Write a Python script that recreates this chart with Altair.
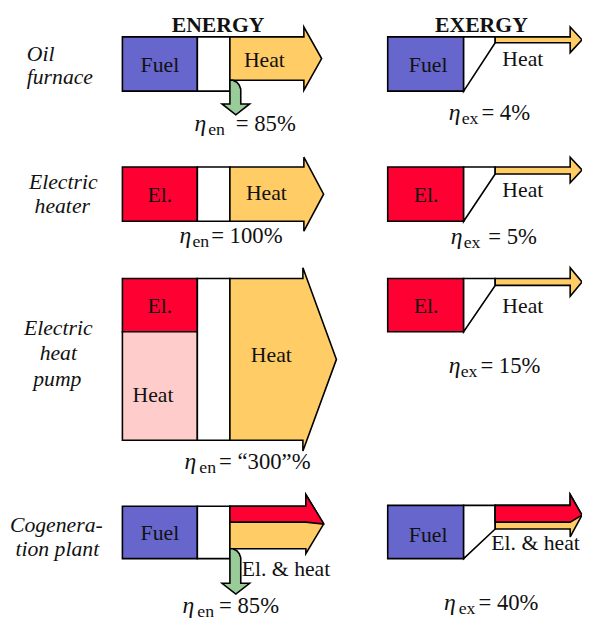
import altair as alt
import pandas as pd

# ---------------- values ----------------
process_lines = [["Oil", "furnace"], ["Electric", "heater"],
                 ["Electric", "heat", "pump"], ["Cogenera-", "tion plant"]]
inputs = ["Fuel", "El.", "El.", "Fuel"]
outputs = ["Heat", "Heat", "Heat", "El. & heat"]
eta_energy = ["85%", "100%", "\u201c300\u201d%", "85%"]
eta_exergy = ["4%", "5%", "15%", "40%"]
column_titles = ["ENERGY", "EXERGY"]
ambient_label = "Heat"

# ---------------- styles ----------------
FUEL = "#6666CC"
ELEC = "#FF0033"
HEAT = "#FFCC66"
AMB = "#FFCCCC"
LOSS = "#99CC99"
WHITE = "#FFFFFF"
FONT = "Liberation Serif"

# ---------------- layout (reference pixel frame) ----------------
polys = []      # vertical-orient areas: x, y, y2
overlay = []    # drawn on top
vpolys = []     # horizontal-orient areas: y, x, x2


def area(target, pid, fill, pts):
    for i, (x, a, b) in enumerate(pts):
        target.append({"id": pid, "fill": fill, "x": x, "y": a, "y2": b, "i": i})


def hare(pid, fill, pts):
    for i, (y, a, b) in enumerate(pts):
        vpolys.append({"id": pid, "fill": fill, "y": y, "x": a, "x2": b, "i": i})


def rect(pid, fill, x0, x1, y0, y1):
    area(polys, pid, fill, [(x0, y0, y1), (x1, y0, y1)])


# energy column
rect("e1f", FUEL, 124, 200, 33, 88)
rect("e1w", WHITE, 200, 233, 33, 88)
area(polys, "e1h", HEAT, [(233, 33, 77), (308, 33, 77), (308.01, 23, 87), (326, 55, 55)])
hare("e1l", LOSS, [(77, 233, 236), (79, 233, 240), (82, 233, 242.5), (86, 233, 244),
                   (101, 233, 244), (101.01, 225, 253), (112, 239, 239)])

rect("e2f", ELEC, 124, 200, 165, 220)
rect("e2w", WHITE, 200, 233, 165, 220)
area(polys, "e2h", HEAT, [(233, 165, 220), (308, 165, 220), (308.01, 155, 230), (328, 192.5, 192.5)])

rect("e3f", ELEC, 124, 200, 278, 332)
rect("e3a", AMB, 124, 200, 332, 442)
rect("e3w", WHITE, 200, 233, 278, 442)
area(polys, "e3h", HEAT, [(233, 278, 442), (307, 278, 442), (307.01, 267, 453), (341, 360, 360)])

rect("e4f", FUEL, 124, 200, 509, 562)
rect("e4w", WHITE, 200, 233, 509, 562)
area(polys, "e4h", HEAT, [(233, 509, 552), (310, 509, 552), (310.01, 497, 557), (328, 527, 527)])
area(overlay, "e4e", ELEC, [(233, 509, 525), (310, 509, 525), (310.01, 497, 525), (328, 526.5, 527)])
hare("e4l", LOSS, [(552, 233, 236), (554, 233, 240), (557, 233, 242.5), (561, 233, 244),
                   (587, 233, 244), (587.01, 225, 253), (598, 239, 239)])

# exergy column
ex_rows = [(33, 88, 39, 23, 49, FUEL), (165, 220, 172, 155, 181, ELEC),
           (278, 332, 285, 267, 296, ELEC)]
for k, (t, b, ab, ht, hb, col) in enumerate(ex_rows):
    rect(f"x{k}f", col, 393, 470, t, b)
    area(polys, f"x{k}w", WHITE, [(470, t, b), (502, t, ab)])
    area(polys, f"x{k}h", HEAT, [(502, t, ab), (578, t, ab), (578.01, ht, hb),
                                 (590, (ht + hb) / 2, (ht + hb) / 2)])
rect("x4f", FUEL, 393, 470, 508, 562)
area(polys, "x4w", WHITE, [(470, 508, 562), (502, 508, 532)])
area(polys, "x4h", HEAT, [(502, 508, 532), (578, 508, 532), (578.01, 497, 540), (590, 518, 518)])
area(overlay, "x4e", ELEC, [(502, 508, 525), (578, 508, 525), (578.01, 497, 525), (590, 518, 518)])

# ---------------- texts ----------------
center_txt = []
box_pos_e = [(162, 69), (162, 200), (162, 313), (162, 543)]
box_pos_x = [(434, 69), (432, 200), (432, 313), (434, 545)]
out_pos_e = [(268, 64), (270, 198), (275, 363)]
out_pos_x = [(530, 63), (530, 195), (530, 313)]
for k in range(4):
    center_txt.append({"x": box_pos_e[k][0], "y": box_pos_e[k][1], "t": inputs[k], "s": 22})
    center_txt.append({"x": box_pos_x[k][0], "y": box_pos_x[k][1], "t": inputs[k], "s": 22})
for k in range(3):
    center_txt.append({"x": out_pos_e[k][0], "y": out_pos_e[k][1], "t": outputs[k], "s": 22})
    center_txt.append({"x": out_pos_x[k][0], "y": out_pos_x[k][1], "t": outputs[k], "s": 22})
center_txt.append({"x": 155, "y": 403, "t": ambient_label, "s": 22})

left_txt = [{"x": 245, "y": 580, "t": outputs[3], "s": 22},
            {"x": 498, "y": 553, "t": outputs[3], "s": 22}]

bold_txt = [{"x": 221, "y": 28, "t": column_titles[0], "s": 22},
            {"x": 488, "y": 28, "t": column_titles[1], "s": 22}]

ital_center = []
lab_pos = [None,
           [(64, 187), (63, 212)],
           [(59, 335), (59, 361), (58, 387)],
           [(57, 535), (58, 559)]]
for k in range(1, 4):
    for line, (x, y) in zip(process_lines[k], lab_pos[k]):
        ital_center.append({"x": x, "y": y, "t": line, "s": 22})
ital_left = [{"x": 27, "y": 57, "t": process_lines[0][0], "s": 22},
             {"x": 27, "y": 81, "t": process_lines[0][1], "s": 22}]

eta_e_pos = [(197, 211, 239, 128), (182, 195, 214, 242), (187, 202, 222, 471), (185, 200, 222, 617)]
eta_x_pos = [(455, 468, 488, 117), (457, 470, 495, 243), (455, 467, 487, 374), (450, 465, 485, 614)]
for vals, pos, sub in [(eta_energy, eta_e_pos, "en"), (eta_exergy, eta_x_pos, "ex")]:
    for v, (ex, sx, vx, b) in zip(vals, pos):
        ital_left.append({"x": ex, "y": b, "t": "\u03b7", "s": 24})
        left_txt.append({"x": sx, "y": b + 4, "t": sub, "s": 18})
        left_txt.append({"x": vx, "y": b, "t": "= " + v, "s": 23})

# ---------------- chart ----------------
X = alt.Scale(domain=[8, 582], nice=False, zero=False)
Y = alt.Scale(domain=[8, 622], nice=False, zero=False, reverse=True)


def area_layer(rows):
    return alt.Chart(pd.DataFrame(rows)).mark_area(
        stroke="black", strokeWidth=1.6, strokeJoin="miter", opacity=1
    ).encode(
        x=alt.X("x:Q", scale=X, axis=None),
        y=alt.Y("y:Q", scale=Y, axis=None),
        y2="y2:Q",
        color=alt.Color("fill:N", scale=None),
        detail="id:N",
    )


green = alt.Chart(pd.DataFrame(vpolys)).mark_area(
    stroke="black", strokeWidth=1.6, opacity=1, orient="horizontal"
).encode(
    y=alt.Y("y:Q", scale=Y, axis=None),
    x=alt.X("x:Q", scale=X, axis=None),
    x2="x2:Q",
    color=alt.Color("fill:N", scale=None),
    detail="id:N",
)


def text_layer(rows, align, **kw):
    return alt.Chart(pd.DataFrame(rows)).mark_text(
        align=align, baseline="alphabetic", font=FONT, color="#111111", **kw
    ).encode(
        x=alt.X("x:Q", scale=X, axis=None),
        y=alt.Y("y:Q", scale=Y, axis=None),
        text="t:N",
        size=alt.Size("s:Q", scale=None),
    )


chart = alt.layer(
    area_layer(polys),
    area_layer(overlay),
    green,
    text_layer(center_txt, "center"),
    text_layer(left_txt, "left"),
    text_layer(bold_txt, "center", fontWeight="bold"),
    text_layer(ital_center, "center", fontStyle="italic"),
    text_layer(ital_left, "left", fontStyle="italic"),
).properties(
    width=574, height=614,
    autosize=alt.AutoSizeParams(type="none"),
    padding={"left": 0, "top": 0, "right": 8, "bottom": 0},
    background="white",
).configure_view(stroke=None)

chart.save("out.html", embed_options={"renderer": "svg", "actions": False})
